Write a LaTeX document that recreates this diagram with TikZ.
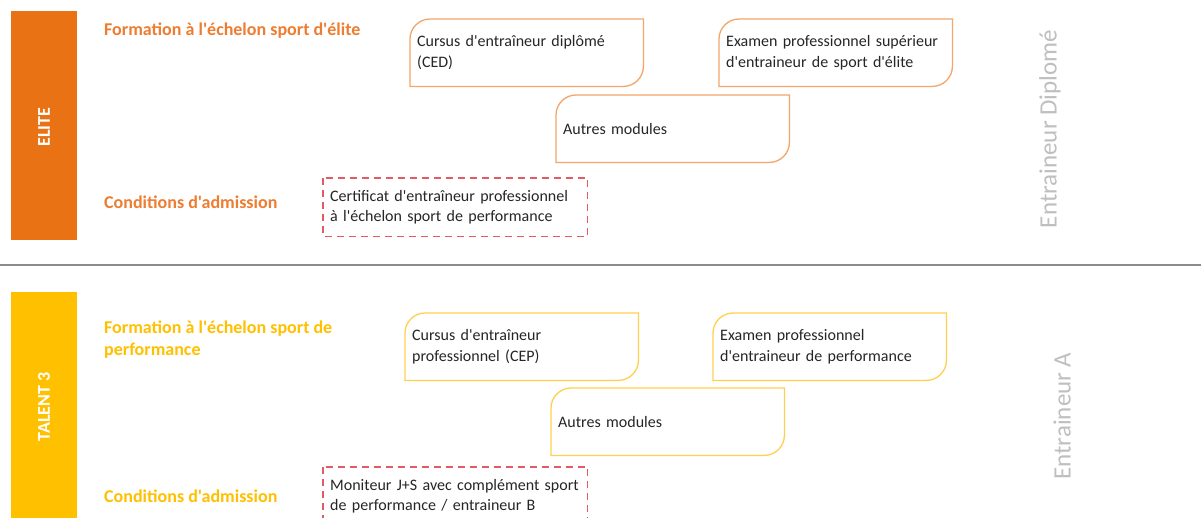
\documentclass[tikz,border=0pt]{standalone}
\usepackage{fontspec}
\setmainfont{Carlito}[Ligatures=TeXOff]
\usetikzlibrary{calc}
\definecolor{elitebar}{RGB}{232,114,20}
\definecolor{elitetxt}{RGB}{237,125,49}
\definecolor{eliteline}{RGB}{244,165,105}
\definecolor{talentbar}{RGB}{255,192,0}
\definecolor{talenttxt}{RGB}{255,192,0}
\definecolor{talentline}{RGB}{255,208,80}
\definecolor{dashred}{RGB}{226,90,100}
\definecolor{graylabel}{RGB}{191,191,191}
\definecolor{sepline}{RGB}{140,140,140}
\definecolor{boxtext}{RGB}{38,38,38}
\tikzset{
  barbox/.style={anchor=north west, inner sep=0, minimum width=66pt},
  bartext/.style={rotate=90, text=white, font=\fontsize{18}{22}\selectfont\bfseries},
  heading/.style={anchor=west, inner sep=0, align=left, font=\fontsize{18}{22}\selectfont\bfseries},
  modbox/.style={anchor=north west, inner sep=7pt, minimum width=233pt, minimum height=67pt,
     text width=219pt, align=left, font=\fontsize{16}{20.5}\selectfont, text=boxtext},
  condbox/.style={anchor=north west, inner sep=7pt, minimum width=264pt, minimum height=58pt,
     text width=250pt, align=left, font=\fontsize{16}{20}\selectfont, text=boxtext},
  condframe/.style={draw=dashred, line width=1.3pt, dash pattern=on 7pt off 5pt},
  sidelabel/.style={rotate=90, text=graylabel, font=\fontsize{25}{29}\selectfont},
}
\newcommand{\rdframe}[2]{%
  \draw[#2, line width=1.3pt] (#1.south west) -- ($(#1.north west)+(0,20)$)
    .. controls ($(#1.north west)+(0,9)$) and ($(#1.north west)+(9,0)$) .. ($(#1.north west)+(20,0)$)
    -- (#1.north east) -- ($(#1.south east)+(0,-20)$)
    .. controls ($(#1.south east)+(0,-9)$) and ($(#1.south east)+(-9,0)$) .. ($(#1.south east)+(-20,0)$)
    -- cycle;}
\begin{document}
\begin{tikzpicture}[x=1pt,y=-1pt]
\clip (0,0) rectangle (1201,517);
\fill[white] (0,0) rectangle (1201,517);
% ELITE
\node[barbox, fill=elitebar, minimum height=229pt] (elitebar) at (11,11) {};
\node[bartext] (elitelbl) at (44,127) {ELITE};
\node[heading, text=elitetxt] (eliteform) at (104,31) {Formation à l'échelon sport d'élite};
\node[heading, text=elitetxt] (elitecond) at (104,202) {Conditions d'admission};
\node[modbox] (ced) at (410,19) {Cursus d'entraîneur diplômé\\(CED)};
\rdframe{ced}{eliteline}
\node[modbox] (examsup) at (719,19) {Examen professionnel supérieur\\d'entraineur de sport d'élite};
\rdframe{examsup}{eliteline}
\node[modbox] (autres1) at (556,95) {Autres modules};
\rdframe{autres1}{eliteline}
\node[condbox] (cond1) at (323,178) {Certificat d'entraîneur professionnel\\à l'échelon sport de performance};
\draw[condframe] (cond1.north west) rectangle (cond1.south east);
\node[sidelabel] (diplome) at (1050,129) {Entraineur Diplomé};
% separator
\coordinate (sepL) at (0,265);
\coordinate (sepR) at (1201,265);
\draw[sepline, line width=1.5pt] (sepL) -- (sepR);
% TALENT 3
\node[barbox, fill=talentbar, minimum height=240pt] (talentbar) at (11,292) {};
\node[bartext] (talentlbl) at (44,407) {TALENT 3};
\node[heading, text=talenttxt] (talentform) at (104,340) {Formation à l'échelon sport de\\performance};
\node[heading, text=talenttxt] (talentcond) at (104,496) {Conditions d'admission};
\node[modbox] (cep) at (405,313) {Cursus d'entraîneur\\professionnel (CEP)};
\rdframe{cep}{talentline}
\node[modbox] (exam) at (713,313) {Examen professionnel\\d'entraineur de performance};
\rdframe{exam}{talentline}
\node[modbox] (autres2) at (551,388) {Autres modules};
\rdframe{autres2}{talentline}
\node[condbox] (cond2) at (323,467) {Moniteur J+S avec complément sport\\de performance / entraineur B};
\draw[condframe] (cond2.north west) rectangle (cond2.south east);
\node[sidelabel] (entrA) at (1062,416) {Entraineur A};
\end{tikzpicture}
\end{document}
